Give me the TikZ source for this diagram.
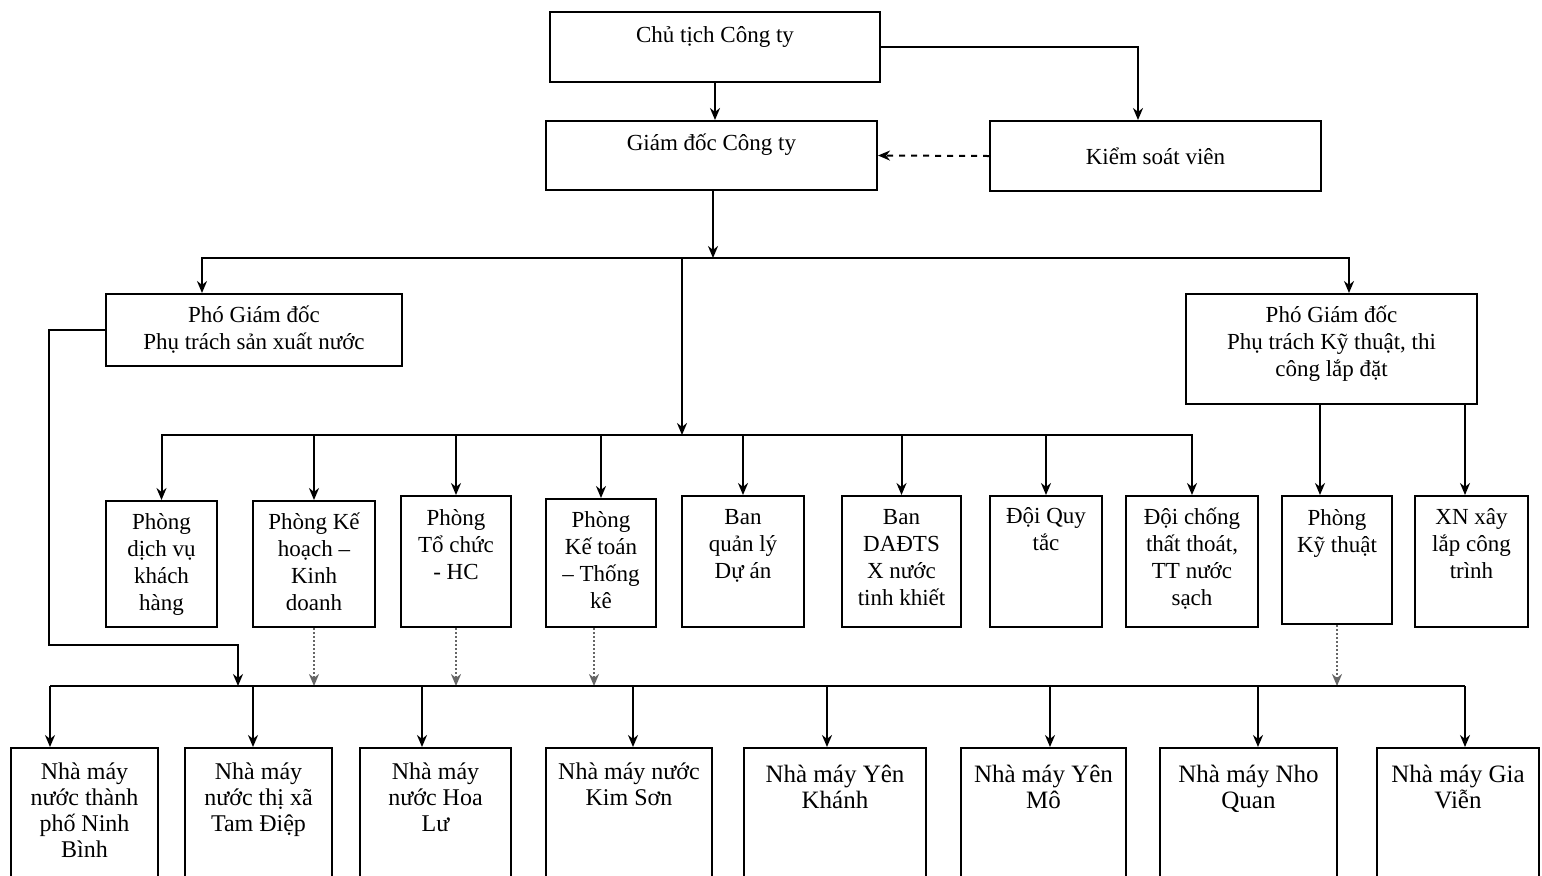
\documentclass[tikz,border=0pt]{standalone}
\usepackage{fontspec}
\setmainfont{Liberation Serif}
\usetikzlibrary{arrows.meta}
% box text set from the top of the box
\newcommand{\cell}[4]{\parbox[c][#2][t]{#1}{\centering\vspace*{#3}#4\par}}
\tikzset{
  box/.style={draw, line width=1pt, inner sep=0pt, font=\fontsize{11.5}{13.5}\selectfont},
  plantbox/.style={box, font=\fontsize{12}{13}\selectfont},
  arr/.style={line width=1pt, -{Stealth[length=6pt,width=5pt]}},
  dotarr/.style={arr, black!60, densely dotted},
}
\begin{document}
\begin{tikzpicture}[x=0.5pt, y=-0.5pt]
    \useasboundingbox (0,0) rectangle (1542,875);
    \clip (0,0) rectangle (1542,875);

    % top level
    \node[box] (ct) at (715,47) {\cell{165pt}{35pt}{7pt}{Chủ tịch Công ty}};
    \node[box] (gd) at (711.5,155.5) {\cell{165.5pt}{34.5pt}{6.5pt}{Giám đốc Công ty}};
    \node[box, minimum width=165.5pt, minimum height=35pt] (ks) at (1155.5,156) {Kiểm soát viên};

    % deputies
    \node[box, minimum width=148pt, minimum height=36pt, align=center] (p1) at (254,330) {Phó Giám đốc\\Phụ trách sản xuất nước};
    \node[box] (p2) at (1331.5,349) {\cell{145.5pt}{55pt}{6pt}{Phó Giám đốc\\Phụ trách Kỹ thuật, thi\\công lắp đặt}};

    % departments
    \node[box] (d1) at (161.5,564) {\cell{55.5pt}{63pt}{6pt}{Phòng\\dịch vụ\\khách\\hàng}};
    \node[box] (d2) at (314,564) {\cell{61pt}{63pt}{6pt}{Phòng Kế\\hoạch –\\Kinh\\doanh}};
    \node[box] (d3) at (456,561.5) {\cell{55pt}{65.5pt}{6.5pt}{Phòng\\Tổ chức\\- HC}};
    \node[box] (d4) at (601,563) {\cell{55pt}{64pt}{6pt}{Phòng\\Kế toán\\– Thống\\kê}};
    \node[box] (d5) at (743,561.5) {\cell{61pt}{65.5pt}{6.5pt}{Ban\\quản lý\\Dự án}};
    \node[box] (d6) at (901.5,561.5) {\cell{59.5pt}{65.5pt}{6.5pt}{Ban\\DAĐTS\\X nước\\tinh khiết}};
    \node[box] (d7) at (1046,561.5) {\cell{56pt}{65.5pt}{5.5pt}{Đội Quy\\tắc}};
    \node[box] (d8) at (1192,561.5) {\cell{66pt}{65.5pt}{6pt}{Đội chống\\thất thoát,\\TT nước\\sạch}};
    \node[box] (d9) at (1337,560) {\cell{55pt}{64pt}{6.5pt}{Phòng\\Kỹ thuật}};
    \node[box] (d10) at (1471.5,561.5) {\cell{56.5pt}{65.5pt}{6pt}{XN xây\\lắp công\\trình}};

    % water plants
    \node[plantbox] (f1) at (84.5,818) {\cell{73.5pt}{70pt}{7.5pt}{Nhà máy\\nước thành\\phố Ninh\\Bình}};
    \node[plantbox] (f2) at (258.5,818) {\cell{73.5pt}{70pt}{7.5pt}{Nhà máy\\nước thị xã\\Tam Điệp}};
    \node[plantbox] (f3) at (435.5,818) {\cell{75.5pt}{70pt}{7.5pt}{Nhà máy\\nước Hoa\\Lư}};
    \node[plantbox] (f4) at (629,818) {\cell{83pt}{70pt}{7.5pt}{Nhà máy nước\\Kim Sơn}};
    \node[plantbox, font=\fontsize{12.5}{13}\selectfont] (f5) at (835,818) {\cell{91pt}{70pt}{8.5pt}{Nhà máy Yên\\Khánh}};
    \node[plantbox, font=\fontsize{12.5}{13}\selectfont] (f6) at (1043.5,818) {\cell{82.5pt}{70pt}{8.5pt}{Nhà máy Yên\\Mô}};
    \node[plantbox, font=\fontsize{12.5}{13}\selectfont] (f7) at (1248.5,818) {\cell{88.5pt}{70pt}{8.5pt}{Nhà máy Nho\\Quan}};
    \node[plantbox, font=\fontsize{12.5}{13}\selectfont] (f8) at (1458,818) {\cell{81pt}{70pt}{8.5pt}{Nhà máy Gia\\Viễn}};

    % links at the top
    \draw[arr] (ct.south) -- (ct.south |- gd.north);
    \draw[arr] (ct.east) -| ([xshift=-8.75pt]ks.north);
    \draw[arr, dashed] (ks.west) -- (gd.east);

    \coordinate (b1) at (713,258);
    \draw[arr] (b1 |- gd.south) -- (b1);
    \draw[arr] (b1) -| ([xshift=-26pt]p1.north);
    \draw[arr] (b1) -| ([xshift=8.75pt]p2.north);

    % departments bus
    \coordinate (b2) at (682,435);
    \draw[arr] (b2 |- b1) -- (b2);
    \foreach \d in {d1,d2,d3,d4,d5,d6,d7,d8}
        \draw[arr] (b2) -| (\d.north);
    \draw[arr] ([xshift=-8.5pt]d9.north |- p2.south) -- ([xshift=-8.5pt]d9.north);
    \draw[arr] ([xshift=-3.25pt]d10.north |- p2.south) -- ([xshift=-3.25pt]d10.north);

    % plants bus
    \coordinate (b3) at (238,686);
    \draw[arr] (p1.west) -- ++(-56,0) |- ([yshift=20.5pt]b3) -- (b3);
    \draw[dotarr] (d2.south) -- (d2.south |- b3);
    \draw[dotarr] (d3.south) -- (d3.south |- b3);
    \draw[dotarr] ([xshift=-3.5pt]d4.south) -- ([xshift=-3.5pt]d4.south |- b3);
    \draw[dotarr] (d9.south) -- (d9.south |- b3);

    \draw[line width=1pt] ([xshift=-17.25pt]f1.north |- b3) -- ([xshift=3.5pt]f8.north |- b3);
    \foreach \f/\s in {f1/-17.25,f2/-2.75,f3/-6.75,f4/2,f5/-4,f6/3.25,f7/4.75,f8/3.5}
        \draw[arr] ([xshift=\s pt]\f.north |- b3) -- ([xshift=\s pt]\f.north);
\end{tikzpicture}
\end{document}
